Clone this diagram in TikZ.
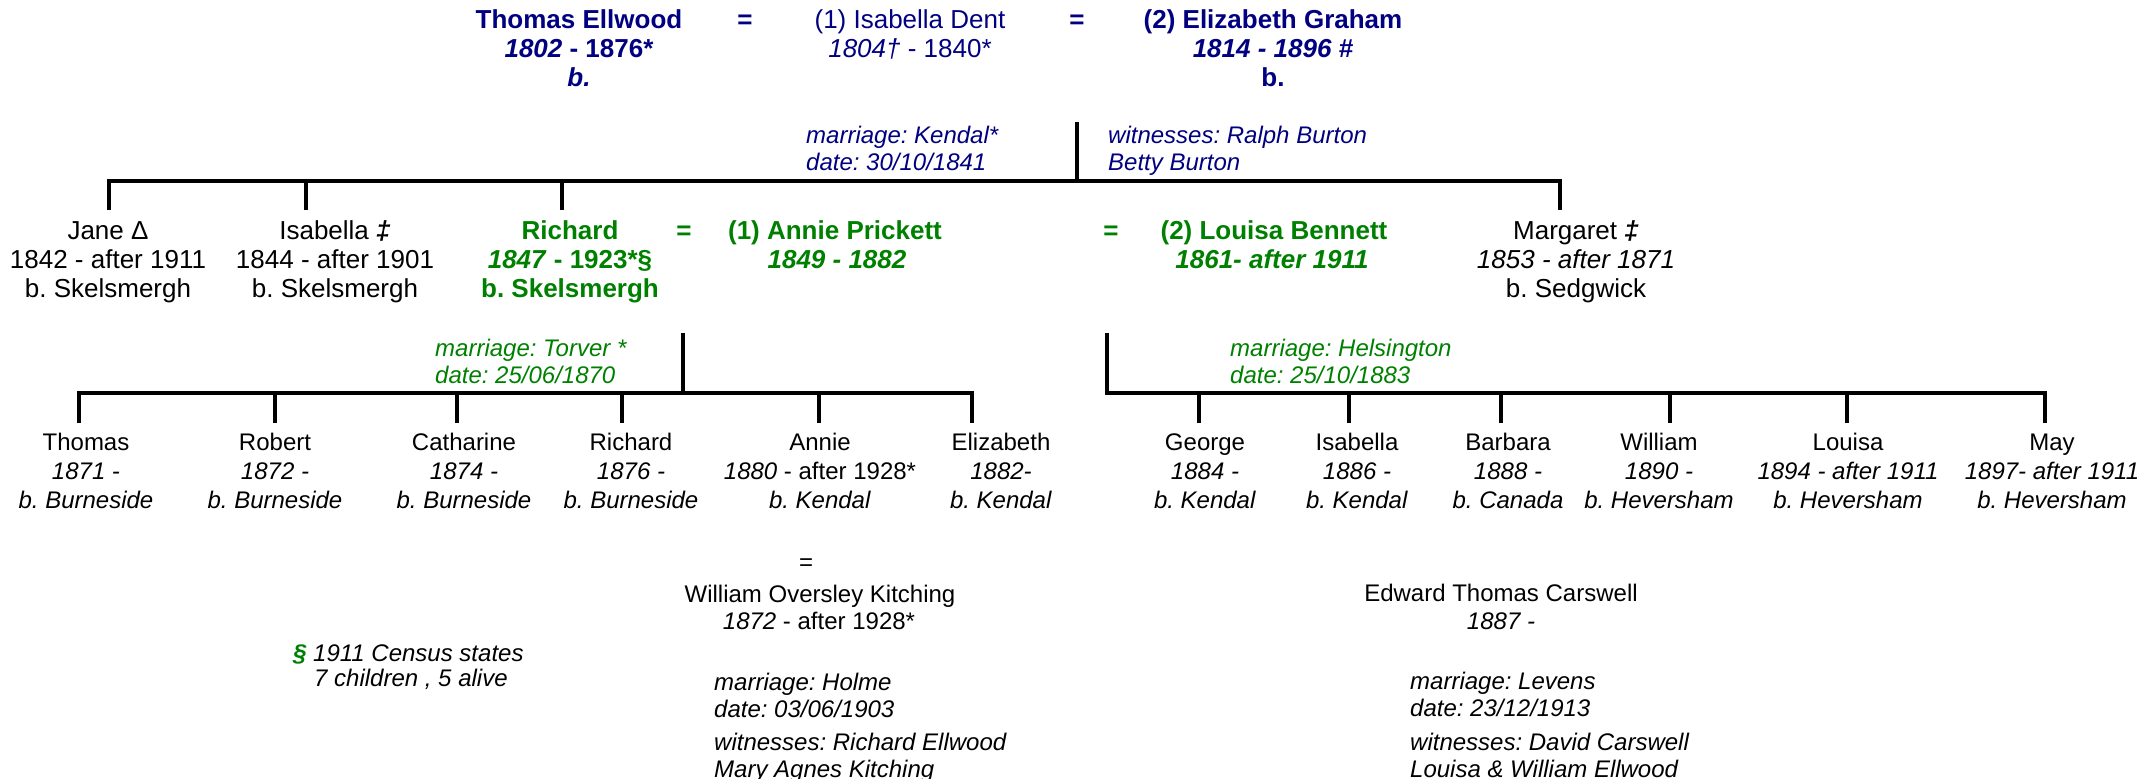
\documentclass[tikz,border=0pt]{standalone}
\usepackage{fontspec}
\setmainfont{Liberation Sans}
\frenchspacing
\definecolor{navy}{RGB}{0,0,128}
\definecolor{grn}{RGB}{0,128,0}
\tikzset{
  big/.style={font=\fontsize{26}{29}\selectfont, anchor=base, inner sep=0pt},
  sml/.style={font=\fontsize{24}{27}\selectfont, anchor=base, inner sep=0pt},
  note/.style={font=\fontsize{24}{27}\selectfont\itshape, anchor=base west, inner sep=0pt},
  tree/.style={line width=4pt, line join=miter, draw=black},
}
% #1 name, #2 style, #3 x, #4 baseline y, #5 #6 #7 lines, pitch 29
\newcommand\famrow[7]{%
  \node[#2] (#1-1) at (#3,#4) {#5};
  \node[#2] (#1-2) at (#3,#4+29) {#6};
  \node[#2] (#1-3) at (#3,#4+58) {#7};
}
\newcommand\notetwo[6]{% name, style extra, x, y, line1, line2
  \node[note,#2] (#1-1) at (#3,#4) {#5};
  \node[note,#2] (#1-2) at (#3,#4+27) {#6};
}
\begin{document}
\begin{tikzpicture}[x=1pt,y=-1pt]
\useasboundingbox (0,0) rectangle (2156,779);

% ---------- generation 1 ----------
\famrow{thomas}{big,text=navy}{579}{28}{\textbf{Thomas Ellwood}}{\textbf{\textit{1802} - 1876*}}{\textbf{\textit{b.}}}
\node[big,text=navy] (eqA) at (745,28) {\textbf{=}};
\node[big,text=navy] (isad-1) at (910,28) {(1) Isabella Dent};
\node[big,text=navy] (isad-2) at (910,57) {\textit{1804†} - 1840*};
\node[big,text=navy] (eqB) at (1077,28) {\textbf{=}};
\famrow{eliz}{big,text=navy}{1273}{28}{\textbf{(2) Elizabeth Graham}}{\textbf{\textit{1814 - 1896 \#}}}{\textbf{b.}}

\notetwo{m1}{text=navy}{806}{143}{marriage: Kendal*}{date: 30/10/1841}
\notetwo{w1}{text=navy}{1108}{143}{witnesses: Ralph Burton}{Betty Burton}

\coordinate (m1top) at (1077,122);
\coordinate (m1bar) at (1077,181);
\coordinate (b1L) at (109,181);
\coordinate (b1R) at (1560,181);
\coordinate (jane-t) at (109,210);
\coordinate (isa-t) at (306,210);
\coordinate (rich-t) at (562,210);
\coordinate (marg-t) at (1560,210);
\draw[tree] (m1top) -- (m1bar);
\draw[tree] (jane-t) -- (b1L) -- (b1R) -- (marg-t);
\draw[tree] (isa-t) -- (isa-t |- b1L);
\draw[tree] (rich-t) -- (rich-t |- b1L);

% ---------- generation 2 ----------
\famrow{jane}{big}{108}{239}{Jane Δ}{1842 - after 1911}{b. Skelsmergh}
\famrow{isab}{big}{335}{239}{Isabella \textbf{\textit{‡}}}{1844 - after 1901}{b. Skelsmergh}
\famrow{rich}{big,text=grn}{570}{239}{\textbf{Richard}}{\textbf{\textit{1847} - 1923*§}}{\textbf{b. Skelsmergh}}
\node[big,text=grn] (eqC) at (684,239) {\textbf{=}};
\node[big,text=grn] (annie-1) at (835,239) {\textbf{(1) Annie Prickett}};
\node[big,text=grn] (annie-2) at (837,268) {\textbf{\textit{1849 - 1882}}};
\node[big,text=grn] (eqD) at (1111,239) {\textbf{=}};
\node[big,text=grn] (louisa-1) at (1274,239) {\textbf{(2) Louisa Bennett}};
\node[big,text=grn] (louisa-2) at (1272,268) {\textbf{\textit{1861- after 1911}}};
\famrow{marg}{big}{1576}{239}{Margaret \textbf{\textit{‡}}}{\textit{1853 - after 1871}}{b. Sedgwick}

\notetwo{m2}{text=grn}{435}{356}{marriage: Torver *}{date: 25/06/1870}
\notetwo{m3}{text=grn}{1230}{356}{marriage: Helsington}{date: 25/10/1883}

% Richard + Annie children line
\coordinate (m2top) at (683,333);
\coordinate (m2bar) at (683,393);
\coordinate (b2L) at (79,393);
\coordinate (b2R) at (972,393);
\coordinate (c1t) at (79,423);
\coordinate (c2t) at (275,423);
\coordinate (c3t) at (457,423);
\coordinate (c4t) at (622,423);
\coordinate (c5t) at (819,423);
\coordinate (c6t) at (972,423);
\draw[tree] (m2top) -- (m2bar);
\draw[tree] (c1t) -- (b2L) -- (b2R) -- (c6t);
\foreach \c in {c2t,c3t,c4t,c5t} \draw[tree] (\c) -- (\c |- b2L);

% Richard + Louisa children line
\coordinate (m3top) at (1107,333);
\coordinate (b3L) at (1107,393);
\coordinate (b3R) at (2045,393);
\coordinate (d1t) at (1199,423);
\coordinate (d2t) at (1349,423);
\coordinate (d3t) at (1501,423);
\coordinate (d4t) at (1670,423);
\coordinate (d5t) at (1847,423);
\coordinate (d6t) at (2045,423);
\draw[tree] (m3top) -- (b3L) -- (b3R) -- (d6t);
\foreach \c in {d1t,d2t,d3t,d4t,d5t} \draw[tree] (\c) -- (\c |- b3L);

% ---------- generation 3 ----------
\famrow{k1}{sml}{86}{450}{Thomas}{\textit{1871 -}}{\textit{b. Burneside}}
\famrow{k2}{sml}{275}{450}{Robert}{\textit{1872 -}}{\textit{b. Burneside}}
\famrow{k3}{sml}{464}{450}{Catharine}{\textit{1874 -}}{\textit{b. Burneside}}
\famrow{k4}{sml}{631}{450}{Richard}{\textit{1876 -}}{\textit{b. Burneside}}
\famrow{k5}{sml}{820}{450}{Annie}{\textit{1880} - after 1928*}{\textit{b. Kendal}}
\famrow{k6}{sml}{1001}{450}{Elizabeth}{\textit{1882-}}{\textit{b. Kendal}}

\famrow{g1}{sml}{1205}{450}{George}{\textit{1884 -}}{\textit{b. Kendal}}
\famrow{g2}{sml}{1357}{450}{Isabella}{\textit{1886 -}}{\textit{b. Kendal}}
\famrow{g3}{sml}{1508}{450}{Barbara}{\textit{1888 -}}{\textit{b. Canada}}
\famrow{g4}{sml}{1659}{450}{William}{\textit{1890 -}}{\textit{b. Heversham}}
\famrow{g5}{sml}{1848}{450}{Louisa}{\textit{1894 - after 1911}}{\textit{b. Heversham}}
\famrow{g6}{sml}{2052}{450}{May}{\textit{1897- after 1911}}{\textit{b. Heversham}}

% ---------- spouses of children ----------
\node[sml] (eqE) at (806,570) {=};
\node[sml] (wok-1) at (820,602) {William Oversley Kitching};
\node[sml] (wok-2) at (819,629) {\textit{1872} - after 1928*};
\node[sml] (etc-1) at (1501,601) {Edward Thomas Carswell};
\node[sml] (etc-2) at (1501,629) {\textit{1887 -}};

\node[note] (census-1) at (293,661) {\textcolor{grn}{\textbf{§}} 1911 Census states};
\node[note] (census-2) at (314,686) {7 children , 5 alive};

\notetwo{m4}{}{714}{690}{marriage: Holme}{date: 03/06/1903}
\notetwo{w4}{}{714}{750}{witnesses: Richard Ellwood}{Mary Agnes Kitching}
\notetwo{m5}{}{1410}{689}{marriage: Levens}{date: 23/12/1913}
\notetwo{w5}{}{1410}{750}{witnesses: David Carswell}{Louisa \& William Ellwood}
\end{tikzpicture}
\end{document}
